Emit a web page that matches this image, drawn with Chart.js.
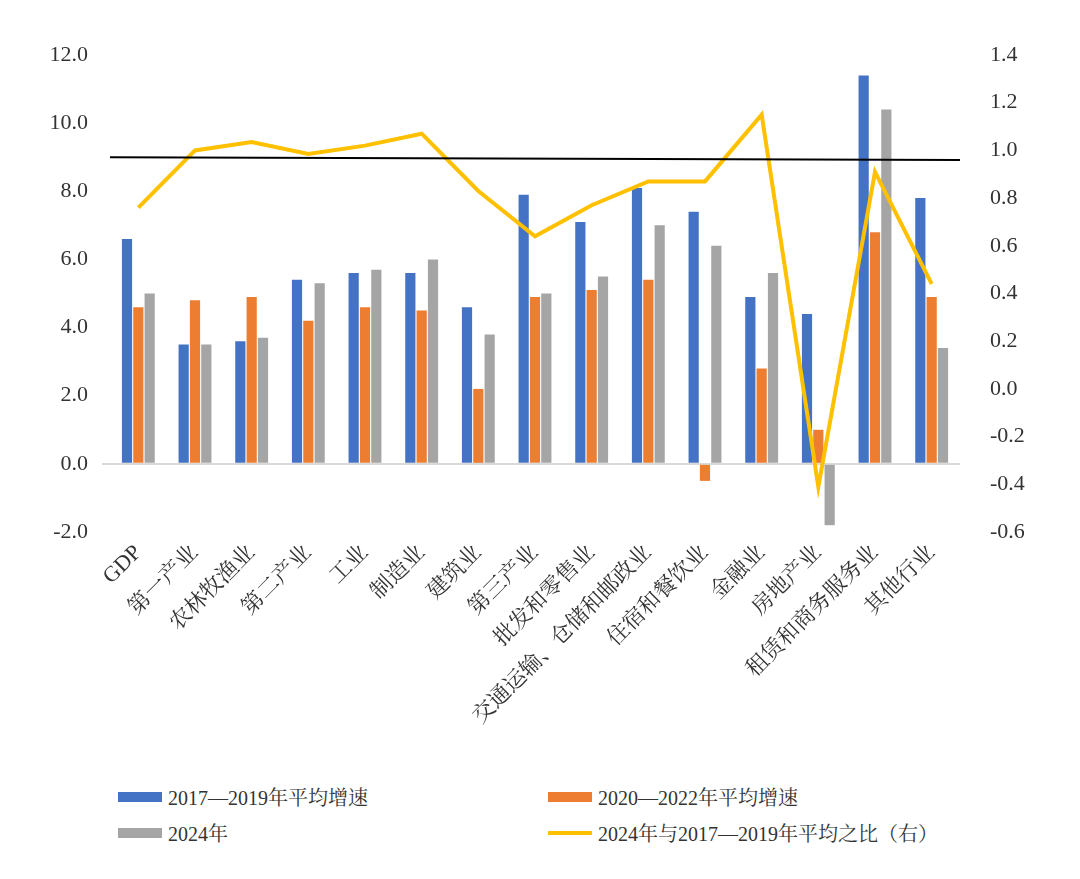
<!DOCTYPE html>
<html><head><meta charset="utf-8">
<script src="https://cdn.jsdelivr.net/npm/chart.js@4/dist/chart.umd.min.js"></script>
<style>
body{margin:0;background:#fff;font-family:"Liberation Serif","Noto Serif CJK SC","Noto Sans CJK SC",serif;}
#wrap{position:relative;width:1080px;height:760px;}
.leg{position:absolute;font-size:20px;color:#333;display:flex;align-items:center;}
.sw{display:inline-block;width:44px;height:10px;margin-right:6px;}
</style></head><body>
<div id="wrap"><canvas id="c" width="1080" height="760"></canvas></div>
<div class="leg" style="left:118px;top:782px"><span class="sw" style="background:#4472C4"></span>2017—2019年平均增速</div>
<div class="leg" style="left:548px;top:782px"><span class="sw" style="background:#ED7D31"></span>2020—2022年平均增速</div>
<div class="leg" style="left:118px;top:818px"><span class="sw" style="background:#A5A5A5"></span>2024年</div>
<div class="leg" style="left:548px;top:818px"><span class="sw" style="background:#FFC000;height:4px"></span>2024年与2017—2019年平均之比（右）</div>
<script>
const categories=["GDP","第一产业","农林牧渔业","第二产业","工业","制造业","建筑业","第三产业","批发和零售业","交通运输、仓储和邮政业","住宿和餐饮业","金融业","房地产业","租赁和商务服务业","其他行业"];
const avg1719=[6.6,3.5,3.6,5.4,5.6,5.6,4.6,7.9,7.1,8.1,7.4,4.9,4.4,11.4,7.8];
const avg2022=[4.6,4.8,4.9,4.2,4.6,4.5,2.2,4.9,5.1,5.4,-0.5,2.8,1.0,6.8,4.9];
const y2024=[5.0,3.5,3.7,5.3,5.7,6.0,3.8,5.0,5.5,7.0,6.4,5.6,-1.8,10.4,3.4];
const ratio=[0.76,1.0,1.035,0.985,1.02,1.07,0.83,0.64,0.77,0.87,0.87,1.15,-0.41,0.91,0.44];
const refLine=[9.0,8.92];
const font={family:'"Liberation Serif","Noto Serif CJK SC","Noto Sans CJK SC",serif',size:22};
const refPlugin={id:'ref',afterDatasetsDraw(ch){const {ctx,chartArea:a,scales:{y}}=ch;ctx.save();ctx.strokeStyle='#000';ctx.lineWidth=2;ctx.beginPath();ctx.moveTo(a.left,y.getPixelForValue(refLine[0]));ctx.lineTo(a.right,y.getPixelForValue(refLine[1]));ctx.stroke();ctx.restore();}};
new Chart(document.getElementById('c'),{
data:{labels:categories,datasets:[
{type:'line',data:ratio,yAxisID:'y1',borderColor:'#FFC000',borderWidth:4,pointRadius:0,tension:0,order:0},
{type:'bar',data:avg1719,backgroundColor:'#4472C4',barPercentage:0.9,categoryPercentage:0.6,order:1},
{type:'bar',data:avg2022,backgroundColor:'#ED7D31',barPercentage:0.9,categoryPercentage:0.6,order:1},
{type:'bar',data:y2024,backgroundColor:'#A5A5A5',barPercentage:0.9,categoryPercentage:0.6,order:1}]},
options:{responsive:false,animation:false,layout:{padding:{top:55,left:0,right:0,bottom:10}},
plugins:{legend:{display:false},tooltip:{enabled:false}},
scales:{
x:{grid:{display:false},border:{display:false},ticks:{font,color:'#333',minRotation:45,maxRotation:45,padding:0},afterFit:s=>{s.height=218;}},
y:{min:-2,max:12,ticks:{stepSize:2,font,color:'#333',callback:v=>v.toFixed(1),padding:14},border:{display:false},grid:{color:c=>c.tick.value===0?'#d9d9d9':'transparent',lineWidth:2},afterFit:s=>{s.width=110;}},
y1:{position:'right',min:-0.6,max:1.4,ticks:{stepSize:0.2,font,color:'#333',callback:v=>(Math.round(v*10)/10).toFixed(1),padding:22},border:{display:false},grid:{display:false},afterFit:s=>{s.width=120;}}
}},plugins:[refPlugin]});
</script></body></html>
